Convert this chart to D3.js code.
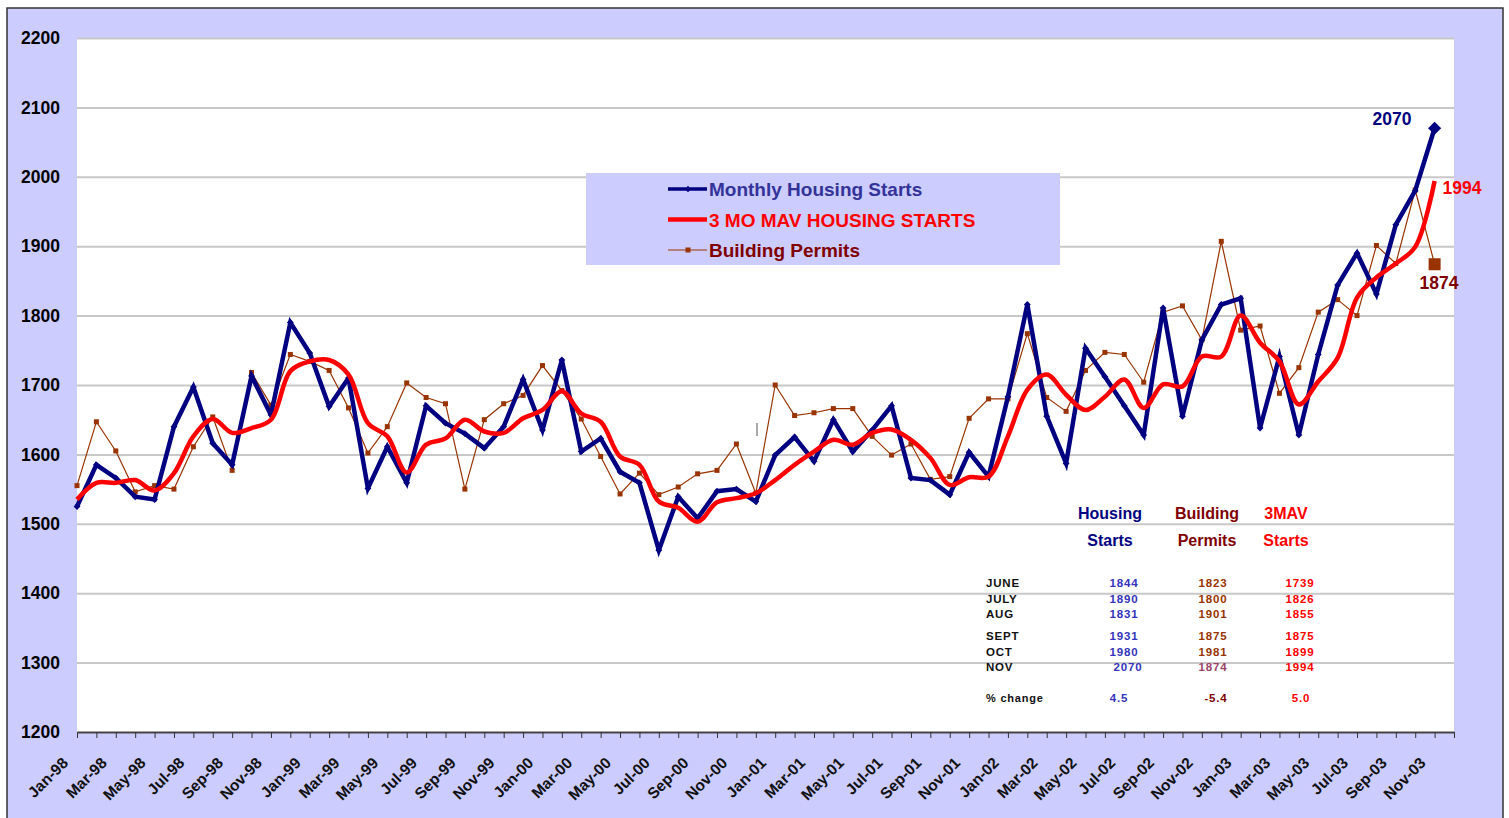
<!DOCTYPE html>
<html>
<head>
<meta charset="utf-8">
<script src="https://cdn.jsdelivr.net/npm/d3@7"></script>
<style>
  body { margin: 0; background: #fff; }
  svg { display: block; font-family: "Liberation Sans", Arial, sans-serif; }
</style>
</head>
<body>
<svg id="chart" width="1509" height="818"></svg>
<script>
// categories
const monthNames = ["Jan","Feb","Mar","Apr","May","Jun","Jul","Aug","Sep","Oct","Nov","Dec"];
const years = ["98","99","00","01","02","03"];
const categories = years.flatMap(y => monthNames.map(m => m + "-" + y));

// monthly housing starts (Jan-98 .. Nov-03)
const starts = [1525,1585,1566,1539,1535,1640,1697,1616,1585,1713,1657,1790,
                1746,1669,1710,1551,1611,1559,1670,1645,1630,1609,1640,1708,
                1635,1736,1604,1623,1575,1559,1462,1539,1508,1547,1550,1532,
                1599,1625,1590,1650,1604,1635,1670,1566,1563,1542,1603,1568,
                1683,1816,1655,1587,1753,1712,1670,1628,1811,1655,1765,1816,
                1825,1638,1741,1628,1744,1844,1890,1831,1931,1980,2070];

// 3 mo moving average of starts
const mav = [1535,1559,1559,1563,1548,1573,1626,1651,1631,1638,1650,1720,
             1734,1736,1715,1645,1626,1574,1614,1623,1650,1633,1631,1652,
             1664,1691,1659,1647,1597,1585,1532,1523,1503,1531,1537,1544,
             1563,1585,1604,1621,1614,1631,1636,1621,1595,1556,1567,1568,
             1626,1693,1715,1686,1664,1683,1708,1667,1701,1698,1741,1741,
             1800,1761,1734,1672,1705,1739,1826,1855,1875,1899,1994];

// building permits
const permits = [1555,1647,1605,1546,1555,1550,1611,1654,1577,1718,1671,1744,
                 1734,1721,1667,1602,1640,1703,1682,1673,1550,1650,1673,1685,
                 1728,1692,1651,1597,1543,1573,1542,1553,1572,1577,1615,1544,
                 1700,1656,1660,1666,1666,1626,1599,1615,1564,1568,1652,1680,
                 1680,1774,1682,1662,1721,1747,1744,1704,1805,1814,1765,1907,
                 1779,1785,1688,1725,1805,1823,1800,1901,1875,1981,1874];

const yTicks = [1200,1300,1400,1500,1600,1700,1800,1900,2000,2100,2200];

// table at lower right
const tableMonths = ["JUNE","JULY","AUG","SEPT","OCT","NOV"];
const tableStarts = [1844,1890,1831,1931,1980,2070];
const tablePermits = [1823,1800,1901,1875,1981,1874];
const tableMav = [1739,1826,1855,1875,1899,1994];
const pctChange = ["4.5","-5.4","5.0"];

const W = 1509, H = 818;
const plot = { left: 77, right: 1454, top: 38, bottom: 732 };

const svg = d3.select("#chart");

// background + frame
svg.append("rect").attr("x", 0).attr("y", 0).attr("width", W).attr("height", H).attr("fill", "#fff");
svg.append("rect").attr("x", 7).attr("y", 8).attr("width", 1496).attr("height", 820)
  .attr("fill", "#CCCCFF").attr("stroke", "#333").attr("stroke-width", 1.5);
svg.append("rect").attr("x", plot.left).attr("y", plot.top)
  .attr("width", plot.right - plot.left).attr("height", plot.bottom - plot.top)
  .attr("fill", "#fff");

const x = d3.scalePoint().domain(categories).range([plot.left, plot.right]);
const y = d3.scaleLinear().domain([1200, 2200]).range([plot.bottom, plot.top]);

// gridlines
svg.append("g")
  .attr("transform", `translate(${plot.left},0)`)
  .call(d3.axisLeft(y).tickValues(yTicks.slice(1)).tickSize(-(plot.right - plot.left)).tickFormat(""))
  .call(g => g.select(".domain").remove())
  .call(g => g.selectAll("line").attr("stroke", "#C8C8C8").attr("stroke-width", 2));

// y labels
svg.append("g")
  .attr("transform", `translate(${plot.left},0)`)
  .call(d3.axisLeft(y).tickValues(yTicks).tickSize(0).tickPadding(17).tickFormat(d3.format("d")))
  .call(g => g.select(".domain").remove())
  .call(g => g.selectAll("text").attr("font-size", 17.5).attr("font-weight", "bold")
    .attr("fill", "#000").attr("font-family", "Liberation Sans, Arial, sans-serif"));

// x axis
const xAxis = svg.append("g")
  .attr("transform", `translate(0,${plot.bottom})`)
  .call(d3.axisBottom(x).tickSize(6).tickSizeOuter(0).tickFormat(""));
xAxis.select(".domain").attr("stroke", "#444").attr("stroke-width", 2);
xAxis.selectAll("line").attr("stroke", "#333");

svg.append("g").selectAll("text")
  .data(categories.filter((d, i) => i % 2 === 0 && i <= 70))
  .join("text")
  .attr("transform", d => `translate(${x(d) - 8},${plot.bottom + 32}) rotate(-45)`)
  .attr("text-anchor", "end")
  .attr("font-size", 15.5)
  .attr("font-weight", "bold")
  .attr("fill", "#111")
  .text(d => d);

const dataCats = categories.slice(0, starts.length);

// building permits
const permitLine = d3.line().x((d, i) => x(dataCats[i])).y(d => y(d));
svg.append("path").datum(permits).attr("d", permitLine)
  .attr("fill", "none").attr("stroke", "#993300").attr("stroke-width", 1.2);
svg.append("g").selectAll("rect").data(permits).join("rect")
  .attr("x", (d, i) => x(dataCats[i]) - (i === permits.length - 1 ? 6 : 2.5))
  .attr("y", d => y(d) - 2.5)
  .attr("width", (d, i) => i === permits.length - 1 ? 12 : 5)
  .attr("height", (d, i) => i === permits.length - 1 ? 12 : 5)
  .attr("transform", (d, i) => i === permits.length - 1 ? "translate(0,-3.5)" : null)
  .attr("fill", "#993300");

// monthly starts
const startLine = d3.line().x((d, i) => x(dataCats[i])).y(d => y(d));
svg.append("path").datum(starts).attr("d", startLine)
  .attr("fill", "none").attr("stroke", "#000080").attr("stroke-width", 4.5)
  .attr("stroke-linejoin", "miter");
svg.append("g").selectAll("path").data(starts).join("path")
  .attr("d", (d, i) => d3.symbol(d3.symbolDiamond2, i === starts.length - 1 ? 110 : 30)())
  .attr("transform", (d, i) => `translate(${x(dataCats[i])},${y(d)})`)
  .attr("fill", "#000080");

// 3 mo mav
const mavLine = d3.line().x((d, i) => x(dataCats[i])).y(d => y(d)).curve(d3.curveCatmullRom.alpha(0.5));
svg.append("path").datum(mav).attr("d", mavLine)
  .attr("fill", "none").attr("stroke", "#FF0000").attr("stroke-width", 4.5);

// stray mark
svg.append("line").attr("x1", 757).attr("x2", 757).attr("y1", 423).attr("y2", 436)
  .attr("stroke", "#555").attr("stroke-width", 1);

// end labels
const lastCat = dataCats[dataCats.length - 1];
const endLabels = [
  { text: String(starts[starts.length - 1]), color: "#000080", dx: -62, v: starts[starts.length - 1], dy: -3.5 },
  { text: String(mav[mav.length - 1]), color: "#FF0000", dx: 8, v: mav[mav.length - 1], dy: 13 },
  { text: String(permits[permits.length - 1]), color: "#800000", dx: -15, v: permits[permits.length - 1], dy: 24.5 }
];
svg.append("g").selectAll("text").data(endLabels).join("text")
  .attr("x", d => x(lastCat) + d.dx)
  .attr("y", d => y(d.v) + d.dy)
  .attr("font-size", 17.5).attr("font-weight", "bold")
  .attr("fill", d => d.color).text(d => d.text);

// legend
const legend = svg.append("g");
legend.append("rect").attr("x", 586).attr("y", 173).attr("width", 474).attr("height", 92).attr("fill", "#CCCCFF");
const legendItems = [
  { label: "Monthly Housing Starts", color: "#000080", text: "#333399", w: 3.5, mark: "diamond" },
  { label: "3 MO MAV HOUSING STARTS", color: "#FF0000", text: "#FF0000", w: 4.5, mark: null },
  { label: "Building Permits", color: "#993300", text: "#800000", w: 1.2, mark: "square" }
];
legendItems.forEach((d, i) => {
  const ly = 189 + i * 30.5;
  legend.append("line").attr("x1", 668).attr("x2", 707).attr("y1", ly).attr("y2", ly)
    .attr("stroke", d.color).attr("stroke-width", d.w);
  if (d.mark === "diamond") {
    legend.append("path").attr("d", d3.symbol(d3.symbolDiamond2, 25)()).attr("transform", `translate(688,${ly})`).attr("fill", d.color);
  } else if (d.mark === "square") {
    legend.append("rect").attr("x", 685.5).attr("y", ly - 2.5).attr("width", 5).attr("height", 5).attr("fill", d.color);
  }
  legend.append("text").attr("x", 709).attr("y", ly + 7).attr("font-size", 19).attr("font-weight", "bold")
    .attr("fill", d.text).text(d.label);
});

// table
const tbl = svg.append("g").attr("font-weight", "bold");
const headers = [
  { lines: ["Housing", "Starts"], x: 1110, color: "#000080" },
  { lines: ["Building", "Permits"], x: 1207, color: "#800000" },
  { lines: ["3MAV", "Starts"], x: 1286, color: "#FF0000" }
];
headers.forEach(h => {
  h.lines.forEach((t, j) => {
    tbl.append("text").attr("x", h.x).attr("y", 519 + j * 27).attr("text-anchor", "middle")
      .attr("font-size", 16).attr("fill", h.color).text(t);
  });
});
const rowY = [587, 603, 618, 640, 656, 671];
tableMonths.forEach((m, i) => {
  tbl.append("text").attr("x", 986).attr("y", rowY[i]).attr("font-size", 11.5).attr("letter-spacing", 0.8)
    .attr("fill", "#111").text(m);
  tbl.append("text").attr("x", 1124 + (i === 5 ? 4 : 0)).attr("y", rowY[i]).attr("text-anchor", "middle")
    .attr("font-size", 11.5).attr("letter-spacing", 0.8).attr("fill", "#3333BB").text(tableStarts[i]);
  tbl.append("text").attr("x", 1213).attr("y", rowY[i]).attr("text-anchor", "middle")
    .attr("font-size", 11.5).attr("letter-spacing", 0.8).attr("fill", i === 5 ? "#994466" : "#993300").text(tablePermits[i]);
  tbl.append("text").attr("x", 1300).attr("y", rowY[i]).attr("text-anchor", "middle")
    .attr("font-size", 11.5).attr("letter-spacing", 0.8).attr("fill", "#FF0000").text(tableMav[i]);
});
tbl.append("text").attr("x", 986).attr("y", 702).attr("font-size", 11).attr("letter-spacing", 0.8)
  .attr("fill", "#111").text("% change");
[1119, 1216, 1301].forEach((cx, i) => {
  tbl.append("text").attr("x", cx).attr("y", 702).attr("text-anchor", "middle")
    .attr("font-size", 11.5).attr("letter-spacing", 0.8)
    .attr("fill", ["#3333BB", "#800000", "#FF0000"][i]).text(pctChange[i]);
});
</script>
</body>
</html>
